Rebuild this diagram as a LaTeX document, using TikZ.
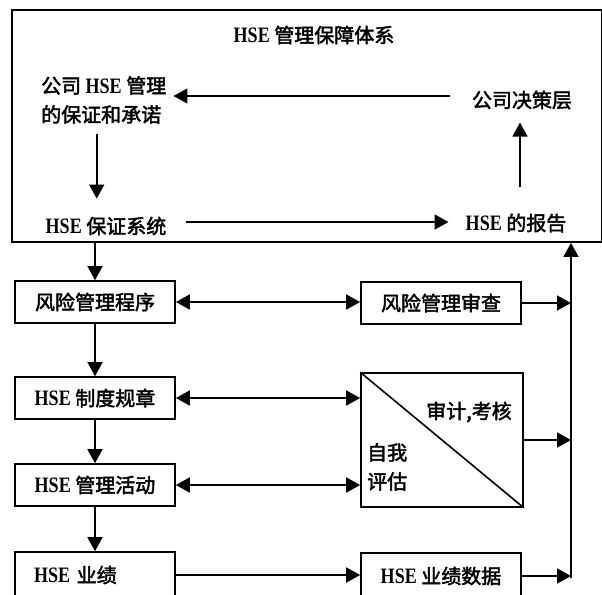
\documentclass[tikz,border=0pt]{standalone}
\usepackage{fontspec}
\usetikzlibrary{arrows.meta, positioning, calc}
\newfontfamily\cjk[AutoFakeBold=2.2]{Noto Sans CJK SC}
\newfontfamily\latin[FakeStretch=0.82]{Liberation Serif}
\newcommand{\hse}{{\latin\bfseries\fontsize{22}{29}\selectfont HSE}}

\begin{document}
\begin{tikzpicture}[x=1pt, y=-1pt,
    every node/.style={font=\cjk\bfseries\fontsize{20}{29}\selectfont, inner sep=0pt},
    box/.style={draw, line width=1.6pt, minimum width=160pt, minimum height=42pt},
    arr/.style={line width=1.6pt, -{Triangle[length=14pt, width=15pt]}},
    dblarr/.style={line width=1.6pt, {Triangle[length=14pt, width=15pt]}-{Triangle[length=14pt, width=15pt]}}]
    \useasboundingbox (0,0) rectangle (602,594);

    % Assurance frame and its inner loop
    \node[draw, line width=1.8pt, minimum width=590pt, minimum height=232pt] (sys) at (307,126) {};
    \node (title) at (314,35) {\hse\ 管理保障体系};
    \node[align=left, anchor=west] (commit) at (41,100) {公司 \hse\ 管理\\的保证和承诺};
    \node (decide) at (522,100) {公司决策层};
    \node (assure) at (106,226) {\hse\ 保证系统};
    \node (report) at (516,223) {\hse\ 的报告};

    \draw[arr, shorten <=22pt, shorten >=7pt] ([yshift=4pt]decide.west) -- ([yshift=4pt]decide.west -| commit.east);
    \draw[arr, shorten <=10pt, shorten >=18pt] ([xshift=-7pt]commit.south) -- ([xshift=-7pt]commit.south |- assure.north);
    \draw[arr, shorten <=20pt, shorten >=17pt] ([yshift=4pt]assure.east) -- ([yshift=4pt]assure.east -| report.west);
    \draw[arr, shorten <=26pt, shorten >=13pt] ([xshift=4pt]report.north) -- ([xshift=4pt]report.north |- decide.south);

    % Left column: procedures down to performance
    \node[box] (risk) at (95,302) {风险管理程序};
    \node[box] (rules) at (95,398) {\hse\ 制度规章};
    \node[box] (act) at (95,485) {\hse\ 管理活动};
    \node[box, minimum height=46pt, text width=122pt, align=left] (perf) at (95,575) {\hse\ 业绩};

    % Right column: review, audit, data
    \node[box] (review) at (441,303) {风险管理审查};
    \node[draw, line width=1.6pt, minimum width=162pt, minimum height=134pt] (audit) at (442,440) {};
    \draw[line width=1.6pt] (audit.north west) -- (audit.south east);
    \node (audittxt) at (469,412) {审计,考核};
    \node[align=left, anchor=west] (self) at (367,467) {自我\\评估};
    \node[box, minimum height=46pt] (data) at (441,576) {\hse\ 业绩数据};

    \draw[arr] (sys.south -| risk.north) -- (risk.north);
    \draw[arr] (risk.south) -- (rules.north);
    \draw[arr] (rules.south) -- (act.north);
    \draw[arr] (act.south) -- (perf.north);

    \draw[dblarr] (risk.east) -- (risk.east -| review.west);
    \draw[dblarr] (rules.east) -- (rules.east -| audit.west);
    \draw[dblarr] (act.east) -- (act.east -| audit.west);
    \draw[arr] (perf.east) -- (perf.east -| data.west);

    % Feedback bus up to the frame
    \coordinate (busbot) at (571,578);
    \draw[arr] (busbot) -- (busbot |- sys.south);
    \draw[arr] (review.east) -- (review.east -| busbot);
    \draw[arr] (audit.east) -- (audit.east -| busbot);
    \draw[arr] (data.east) -- (data.east -| busbot);
\end{tikzpicture}
\end{document}
